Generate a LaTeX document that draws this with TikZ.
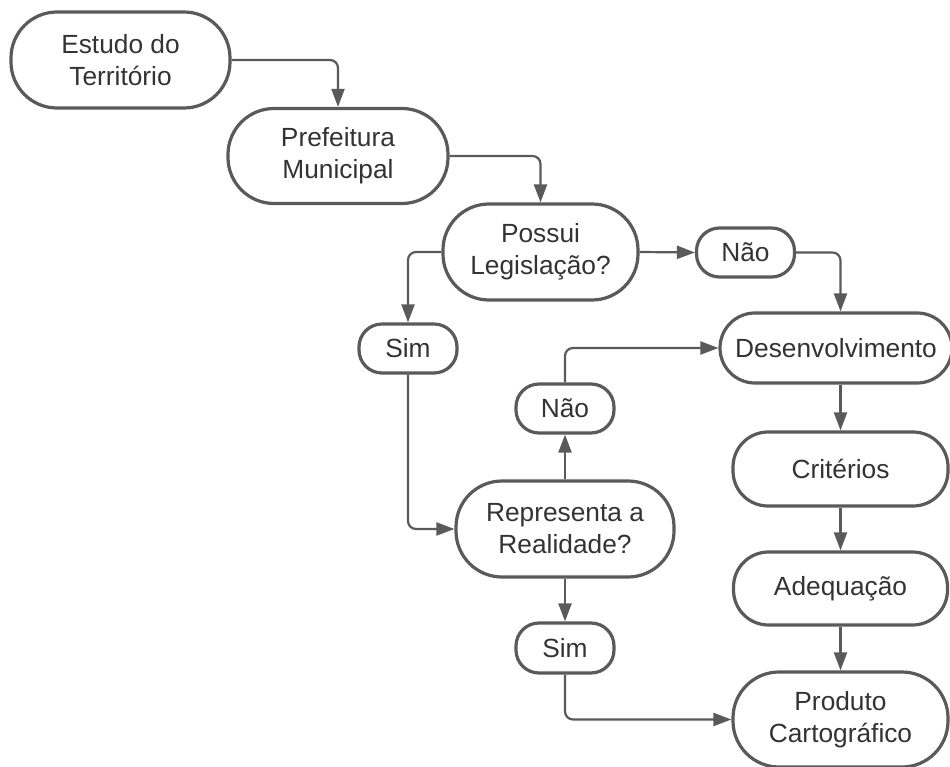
\documentclass[tikz,border=0pt]{standalone}
\usepackage{fontspec}
\setmainfont{Liberation Sans}
\usetikzlibrary{arrows.meta}
\definecolor{linegray}{HTML}{5A5A5A}
\definecolor{textgray}{HTML}{333333}
\begin{document}
\begin{tikzpicture}[x=1pt,y=-1pt,
  box/.style={draw=linegray, line width=3.2pt, fill=white, align=center,
    inner sep=0pt, text=textgray, font=\fontsize{26.3}{32}\selectfont},
  bigbox/.style={box, rounded corners=46pt},
  midbox/.style={box, rounded corners=35pt},
  smallbox/.style={box, rounded corners=23pt, minimum width=98pt, minimum height=49pt},
  arr/.style={draw=linegray, line width=2.2pt, rounded corners=8pt,
    -{Triangle[length=18pt,width=13pt]}}]
\useasboundingbox (0,0) rectangle (950,767);
\fill[white] (0,0) rectangle (950,767);

\node[bigbox, minimum width=219pt, minimum height=96pt] (est) at (120.5,60) {Estudo do\\Território};
\node[bigbox, minimum width=220pt, minimum height=95pt] (pref) at (338,156) {Prefeitura\\Municipal};
\node[bigbox, minimum width=195pt, minimum height=96pt] (pos) at (540.5,252) {Possui\\Legislação?};
\node[smallbox] (nao1) at (745.5,252.5) {Não};
\node[smallbox] (sim1) at (408,348.5) {Sim};
\node[midbox, minimum width=232pt, minimum height=70pt] (des) at (836,348) {Desenvolvimento};
\node[smallbox] (nao2) at (565,408.5) {Não};
\node[midbox, minimum width=215pt, minimum height=74pt] (crit) at (840.5,469) {Critérios};
\node[bigbox, minimum width=218pt, minimum height=96pt] (rep) at (565,529) {Representa a\\Realidade?};
\node[midbox, minimum width=214pt, minimum height=73pt] (adeq) at (840.5,588.5) {Adequação};
\node[smallbox, minimum height=50pt] (sim2) at (565,648) {Sim};
\node[bigbox, minimum width=215pt, minimum height=95pt] (prod) at (840.5,719.5) {Produto\\Cartográfico};

\draw[arr] (est.east) -| (pref.north);
\draw[arr] (pref.east) -| (pos.north);
\draw[arr] (pos.east) -- (nao1.west);
\draw[arr] (nao1.east) -| (crit.north |- des.north);
\draw[arr] (pos.west) -| (sim1.north);
\draw[arr] (sim1.south) |- (rep.west);
\draw[arr] (rep.north) -- (nao2.south);
\draw[arr] (nao2.north) |- (des.west);
\draw[arr] (des.south -| crit.north) -- (crit.north);
\draw[arr] (crit.south) -- (adeq.north);
\draw[arr] (adeq.south) -- (prod.north);
\draw[arr] (rep.south) -- (sim2.north);
\draw[arr] (sim2.south) |- (prod.west);
\end{tikzpicture}
\end{document}
